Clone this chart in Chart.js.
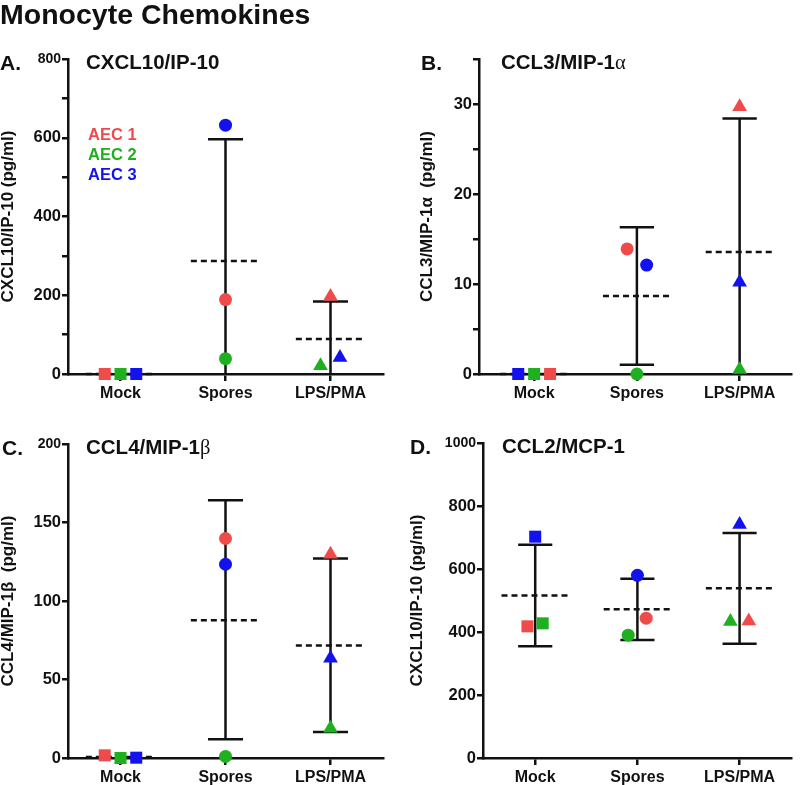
<!DOCTYPE html>
<html>
<head>
<meta charset="utf-8">
<title>Monocyte Chemokines</title>
<script src="https://cdn.jsdelivr.net/npm/chart.js@4.4.0/dist/chart.umd.min.js"></script>
<style>
  body { margin: 0; background: #fff; font-family: 'Liberation Sans', Arial, sans-serif; }
  #page { position: relative; width: 800px; height: 785px; overflow: hidden; }
  canvas { position: absolute; }
  .txt { position: absolute; font-weight: bold; color: #111; white-space: nowrap; line-height: 1; }
  .greek { font-family: 'Liberation Serif', serif; font-weight: normal; }
</style>
</head>
<body>
<div id="page">
  <canvas id="chartA" width="400" height="410" style="left:0;top:0"></canvas>
  <canvas id="chartB" width="400" height="410" style="left:400px;top:0"></canvas>
  <canvas id="chartC" width="400" height="375" style="left:0;top:410px"></canvas>
  <canvas id="chartD" width="400" height="375" style="left:400px;top:410px"></canvas>

  <div class="txt" style="left:0;top:0;font-size:28.5px">Monocyte Chemokines</div>

  <div class="txt" style="left:0;top:52px;font-size:21px">A.</div>
  <div class="txt" style="left:86px;top:52px;font-size:20.5px">CXCL10/IP-10</div>
  <div class="txt" style="left:88px;top:126px;font-size:16.5px;color:#f04b4b">AEC 1</div>
  <div class="txt" style="left:88px;top:146px;font-size:16.5px;color:#1eb01e">AEC 2</div>
  <div class="txt" style="left:88px;top:166px;font-size:16.5px;color:#1212ee">AEC 3</div>

  <div class="txt" style="left:421px;top:52px;font-size:21px">B.</div>
  <div class="txt" style="left:501px;top:52px;font-size:20.5px">CCL3/MIP-1<span class="greek">α</span></div>

  <div class="txt" style="left:2px;top:437px;font-size:21px">C.</div>
  <div class="txt" style="left:86px;top:437px;font-size:20.5px">CCL4/MIP-1<span class="greek">β</span></div>

  <div class="txt" style="left:410px;top:436px;font-size:21px">D.</div>
  <div class="txt" style="left:502px;top:436px;font-size:20.5px">CCL2/MCP-1</div>
</div>

<script>
// Monocyte chemokine levels, three donors (AEC 1-3), mean +/- SD per condition

const categories = ['Mock', 'Spores', 'LPS/PMA'];
const seriesNames = ['AEC 1', 'AEC 2', 'AEC 3'];

// A. CXCL10/IP-10 (pg/ml)
const cxcl10Aec1 = [0, 189, 197];
const cxcl10Aec2 = [0, 39, 21];
const cxcl10Aec3 = [0, 632, 42];
const cxcl10Mean = [0, 287, 89];
const cxcl10Upper = [0, 596, 184];
const cxcl10Lower = [0, null, null];
const cxcl10Ticks = [0, 200, 400, 600, 800];

// B. CCL3/MIP-1a (pg/ml)
const ccl3Aec1 = [0, 13.9, 29.7];
const ccl3Aec2 = [0, 0, 0.5];
const ccl3Aec3 = [0, 12.1, 10.2];
const ccl3Mean = [0, 8.67, 13.56];
const ccl3Upper = [0, 16.3, 28.4];
const ccl3Lower = [0, 1.04, null];
const ccl3Ticks = [0, 10, 20, 30];

// C. CCL4/MIP-1b (pg/ml)
const ccl4Aec1 = [1.7, 139.8, 129.8];
const ccl4Aec2 = [0, 1, 19];
const ccl4Aec3 = [0.2, 123.4, 63.6];
const ccl4Mean = [0.6, 87.8, 71.7];
const ccl4Upper = [0.6, 164.2, 127];
const ccl4Lower = [0.6, 11.9, 16.5];
const ccl4Ticks = [0, 50, 100, 150, 200];

// D. CCL2/MCP-1 (pg/ml)
const ccl2Aec1 = [418, 444, 435];
const ccl2Aec2 = [427.5, 390, 433];
const ccl2Aec3 = [702.6, 580, 741];
const ccl2Mean = [516, 472, 538.6];
const ccl2Upper = [677, 569, 714];
const ccl2Lower = [354.5, 374.6, 363];
const ccl2Ticks = [0, 200, 400, 600, 800, 1000];

// styling
const seriesColors = ['#f04b4b', '#1eb01e', '#1212ee'];
const markerShapes = ['rect', 'circle', 'triangle'];
const markerRadius = { rect: 8.5, circle: 6.5, triangle: 8.5 };
const ink = '#111';
const fontFamily = "'Liberation Sans', Arial, sans-serif";

// draws dashed mean line and SD whiskers under the points
const meanSdPlugin = {
    id: 'meanSd',
    beforeDatasetsDraw(chart, args, opts) {
        const { ctx } = chart;
        const x = chart.scales.x;
        const y = chart.scales.y;
        ctx.save();
        ctx.strokeStyle = ink;
        ctx.lineWidth = 2.5;
        opts.mean.forEach((m, i) => {
            const c = i + 1;
            const hi = opts.upper[i];
            const lo = opts.lower[i];
            const yHi = y.getPixelForValue(hi);
            const yLo = y.getPixelForValue(lo == null ? 0 : lo);
            ctx.setLineDash([]);
            ctx.beginPath();
            ctx.moveTo(x.getPixelForValue(c), yHi);
            ctx.lineTo(x.getPixelForValue(c), yLo);
            if (hi > m) {
                ctx.moveTo(x.getPixelForValue(c - 0.167), yHi);
                ctx.lineTo(x.getPixelForValue(c + 0.167), yHi);
            }
            if (lo != null && lo < m) {
                ctx.moveTo(x.getPixelForValue(c - 0.167), yLo);
                ctx.lineTo(x.getPixelForValue(c + 0.167), yLo);
            }
            ctx.stroke();
            ctx.setLineDash([6, 4]);
            ctx.beginPath();
            ctx.moveTo(x.getPixelForValue(c - 0.33), y.getPixelForValue(m));
            ctx.lineTo(x.getPixelForValue(c + 0.33), y.getPixelForValue(m));
            ctx.stroke();
        });
        ctx.restore();
    }
};

function makeChart(id, p) {
    const datasets = p.series.map((vals, s) => ({
        label: seriesNames[s],
        data: vals.map((v, i) => ({ x: i + 1 + p.jitter[s][i], y: v })),
        pointStyle: markerShapes,
        pointRadius: markerShapes.map(m => markerRadius[m]),
        pointBackgroundColor: seriesColors[s],
        pointBorderColor: seriesColors[s],
        pointBorderWidth: 0,
        showLine: false,
        clip: false
    }));

    return new Chart(document.getElementById(id), {
        type: 'scatter',
        data: { datasets },
        options: {
            responsive: false,
            animation: false,
            events: [],
            layout: { padding: p.padding },
            plugins: {
                legend: { display: false },
                tooltip: { enabled: false },
                meanSd: { mean: p.mean, upper: p.upper, lower: p.lower }
            },
            scales: {
                x: {
                    type: 'linear',
                    min: p.xMin,
                    max: p.xMax,
                    afterBuildTicks: scale => { scale.ticks = categories.map((c, i) => ({ value: i + 1 })); },
                    afterFit: scale => { scale.height = p.xHeight; },
                    ticks: {
                        callback: v => categories[v - 1],
                        autoSkip: false,
                        maxRotation: 0,
                        padding: 3,
                        color: ink,
                        font: { family: fontFamily, size: 16, weight: 'bold' }
                    },
                    grid: { drawOnChartArea: false, tickLength: 7, color: ink, lineWidth: 2.5 },
                    border: { color: ink, width: 2.5 }
                },
                y: {
                    min: 0,
                    max: p.yMax,
                    afterFit: scale => { scale.width = p.yWidth; },
                    ticks: {
                        stepSize: p.yStep,
                        callback: v => (p.yTicks.includes(v) ? v : ''),
                        padding: 1,
                        color: ink,
                        font: ctx => ({
                            family: fontFamily,
                            weight: 'bold',
                            size: ctx.tick && ctx.tick.value === p.yMax ? 14 : 16.5
                        })
                    },
                    grid: { drawOnChartArea: false, tickLength: 6, color: ink, lineWidth: 2.5 },
                    border: { color: ink, width: 2.5 },
                    title: {
                        display: true,
                        text: p.yTitle,
                        color: ink,
                        padding: 0,
                        font: { family: fontFamily, size: 17, weight: 'bold', lineHeight: 1 }
                    }
                }
            }
        },
        plugins: [meanSdPlugin]
    });
}

makeChart('chartA', {
    series: [cxcl10Aec1, cxcl10Aec2, cxcl10Aec3],
    jitter: [[-0.15, 0, 0], [0, 0, -0.095], [0.15, 0, 0.09]],
    mean: cxcl10Mean, upper: cxcl10Upper, lower: cxcl10Lower,
    yMax: 800, yStep: 100, yTicks: cxcl10Ticks,
    yTitle: 'CXCL10/IP-10 (pg/ml)',
    xMin: 0.5, xMax: 3.5,
    padding: { top: 59, left: 0, right: 17, bottom: 0 },
    yWidth: 68, xHeight: 36
});

makeChart('chartB', {
    series: [ccl3Aec1, ccl3Aec2, ccl3Aec3],
    jitter: [[0.155, -0.095, 0], [0, 0, 0], [-0.155, 0.095, 0]],
    mean: ccl3Mean, upper: ccl3Upper, lower: ccl3Lower,
    yMax: 35, yStep: 5, yTicks: ccl3Ticks,
    yTitle: 'CCL3/MIP-1α  (pg/ml)',
    xMin: 0.463, xMax: 3.505,
    padding: { top: 59, left: 19, right: 0, bottom: 0 },
    yWidth: 60, xHeight: 36
});

makeChart('chartC', {
    series: [ccl4Aec1, ccl4Aec2, ccl4Aec3],
    jitter: [[-0.15, 0, 0], [0, 0, 0], [0.15, 0, 0]],
    mean: ccl4Mean, upper: ccl4Upper, lower: ccl4Lower,
    yMax: 200, yStep: 50, yTicks: ccl4Ticks,
    yTitle: 'CCL4/MIP-1β  (pg/ml)',
    xMin: 0.5, xMax: 3.5,
    padding: { top: 34, left: 0, right: 17, bottom: 0 },
    yWidth: 68, xHeight: 27
});

makeChart('chartD', {
    series: [ccl2Aec1, ccl2Aec2, ccl2Aec3],
    jitter: [[-0.076, 0.086, 0.09], [0.073, -0.09, -0.09], [0, 0, 0]],
    mean: ccl2Mean, upper: ccl2Upper, lower: ccl2Lower,
    yMax: 1000, yStep: 200, yTicks: ccl2Ticks,
    yTitle: 'CXCL10/IP-10 (pg/ml)',
    xMin: 0.489, xMax: 3.508,
    padding: { top: 33, left: 9, right: 0, bottom: 0 },
    yWidth: 74, xHeight: 27
});
</script>
</body>
</html>
